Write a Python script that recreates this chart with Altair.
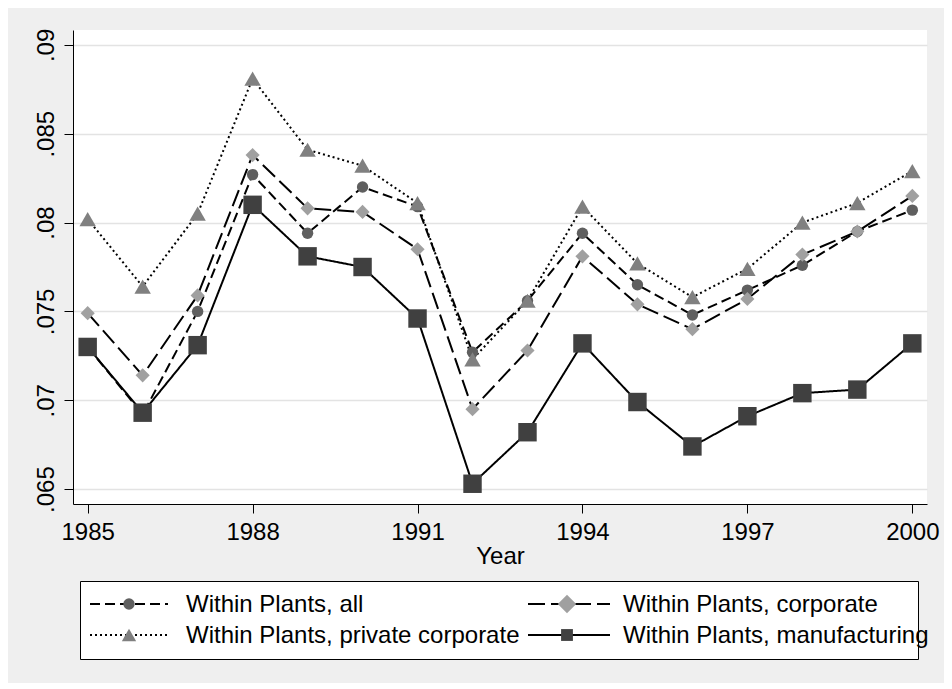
import altair as alt
import pandas as pd

years = list(range(1985, 2001))
series_names = [
    "Within Plants, all",
    "Within Plants, corporate",
    "Within Plants, private corporate",
    "Within Plants, manufacturing",
]
all_vals = [0.0730, 0.0692, 0.0750, 0.0827, 0.0794, 0.0820, 0.0809, 0.0727,
            0.0756, 0.0794, 0.0765, 0.0748, 0.0762, 0.0776, 0.0795, 0.0807]
corp_vals = [0.0749, 0.0714, 0.0759, 0.0838, 0.0808, 0.0806, 0.0785, 0.0695,
             0.0728, 0.0781, 0.0754, 0.0740, 0.0757, 0.0782, 0.0795, 0.0815]
priv_vals = [0.0802, 0.0764, 0.0805, 0.0881, 0.0841, 0.0832, 0.0811, 0.0723,
             0.0756, 0.0809, 0.0777, 0.0758, 0.0774, 0.0800, 0.0811, 0.0829]
manuf_vals = [0.0730, 0.0693, 0.0731, 0.0810, 0.0781, 0.0775, 0.0746, 0.0653,
              0.0682, 0.0732, 0.0699, 0.0674, 0.0691, 0.0704, 0.0706, 0.0732]
x_ticks = [1985, 1988, 1991, 1994, 1997, 2000]
y_ticks = [0.065, 0.07, 0.075, 0.08, 0.085, 0.09]

FONT = "Arial, Liberation Sans, Helvetica, sans-serif"
dashes = [[10, 5], [17, 6], [2, 3], [1, 0]]
shapes = ["circle", "diamond", "triangle-up", "square"]
fills = ["#5f5f5f", "#a0a0a0", "#808080", "#404040"]
sizes = [130, 340, 205, 140]

rows = []
for name, vals in zip(series_names, [all_vals, corp_vals, priv_vals, manuf_vals]):
    for yr, v in zip(years, vals):
        rows.append({"year": yr, "value": v, "series": name})
df = pd.DataFrame(rows)

xenc = alt.X("year:Q", scale=alt.Scale(domain=[1984.733, 2000.267], nice=False, zero=False),
             axis=alt.Axis(values=x_ticks, format="d", title="Year", grid=False,
                           tickSize=9, tickColor="black", domainColor="black",
                           labelFontSize=24, labelFont=FONT, labelColor="black",
                           labelPadding=7, titleFontSize=24, titleFont=FONT,
                           titleFontWeight="normal", titleColor="black", titlePadding=0,
                           labelFlush=False))
yenc = alt.Y("value:Q", scale=alt.Scale(domain=[0.06416, 0.09084], nice=False, zero=False),
             axis=alt.Axis(values=y_ticks, title=None, grid=True, gridColor="#e3e3e3",
                           gridWidth=1.6, tickSize=9, tickColor="black", domainColor="black",
                           labelFontSize=24, labelFont=FONT, labelColor="black",
                           labelAngle=270, labelAlign="center", labelBaseline="alphabetic",
                           labelPadding=11, labelFlush=False,
                           labelExpr="substring(format(datum.value, '.3~f'), 1)"))

base = alt.Chart(df)
lines = base.mark_line(color="black", strokeWidth=2).encode(
    x=xenc, y=yenc,
    strokeDash=alt.StrokeDash("series:N", scale=alt.Scale(domain=series_names, range=dashes), legend=None),
    detail="series:N",
)
points = base.mark_point(filled=True, opacity=1, strokeWidth=0).encode(
    x=xenc, y=yenc,
    shape=alt.Shape("series:N", scale=alt.Scale(domain=series_names, range=shapes), legend=None),
    color=alt.Color("series:N", scale=alt.Scale(domain=series_names, range=fills), legend=None),
    size=alt.Size("series:N", scale=alt.Scale(domain=series_names, range=sizes), legend=None),
)

# legend (manual, pixel coordinates relative to plot area)
one = pd.DataFrame({"k": [0]})
leg_layers = []
leg_layers.append(alt.Chart(one).mark_rect(fill="white", stroke="black", strokeWidth=1).encode(
    x=alt.value(7.5), x2=alt.value(845.5), y=alt.value(551.5), y2=alt.value(629.5)))
pos = [(17, 95, 56, 113, 574), (455, 537, 494, 550, 574),
       (17, 95, 56, 113, 605), (455, 537, 494, 550, 605)]
for i, name in enumerate(series_names):
    x1, x2, xm, xt, yy = pos[i]
    leg_layers.append(alt.Chart(one).mark_rule(color="black", strokeWidth=2, strokeDash=dashes[i]).encode(
        x=alt.value(x1), x2=alt.value(x2), y=alt.value(yy)))
    leg_layers.append(alt.Chart(one).mark_point(filled=True, opacity=1, strokeWidth=0, shape=shapes[i],
                                                 color=fills[i], size=sizes[i]).encode(
        x=alt.value(xm), y=alt.value(yy)))
    leg_layers.append(alt.Chart(pd.DataFrame({"label": [name]})).mark_text(
        align="left", baseline="middle", fontSize=24, font=FONT, color="black").encode(
        x=alt.value(xt), y=alt.value(yy + 1), text="label:N"))

chart = alt.layer(lines, points, *leg_layers).properties(
    width=854, height=474,
    background="#efefef",
    padding={"left": 65, "top": 22, "right": 17, "bottom": 179},
    autosize=alt.AutoSizeParams(type="none"),
).configure_view(fill="white", stroke=None)

chart.save("out.html", embed_options={"renderer": "svg", "actions": False})
